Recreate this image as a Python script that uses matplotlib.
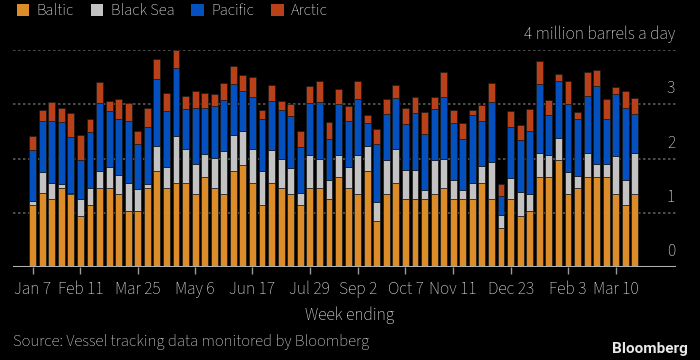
import numpy as np
import pandas as pd
import matplotlib
matplotlib.use('Agg')
from matplotlib import pyplot as plt
from matplotlib.patches import Patch
import matplotlib.transforms as mtransforms

plt.rcParams['font.family'] = ['Source Sans 3', 'DejaVu Sans']

# weekly seaborne crude exports by region, million barrels a day
weeks = pd.date_range('2018-01-07', periods=64, freq='W-SUN')

baltic = [1.14, 1.36, 1.26, 1.45, 1.35, 0.94, 1.14, 1.45, 1.45, 1.35, 1.04,
          1.04, 1.45, 1.77, 1.45, 1.55, 1.55, 1.35, 1.66, 1.45, 1.35, 1.77,
          1.88, 1.55, 1.14, 1.55, 1.45, 1.35, 1.14, 1.45, 1.45, 1.26, 1.66,
          1.45, 1.35, 1.77, 0.84, 1.35, 1.55, 1.26, 1.26, 1.26, 1.35, 1.45,
          1.26, 1.26, 1.26, 1.55, 1.26, 0.72, 1.26, 0.94, 1.04, 1.66, 1.66,
          1.98, 1.35, 1.45, 1.66, 1.66, 1.66, 1.35, 1.14, 1.35]
black_sea = [0.07, 0.40, 0.29, 0.08, 0.02, 0.31, 0.31, 0.32, 0.40, 0.34, 0.51,
             0.39, 0.08, 0.46, 0.40, 0.86, 0.62, 0.54, 0.43, 0.56, 0.78, 0.67,
             0.62, 0.62, 0.63, 0.60, 0.54, 0.48, 0.23, 0.62, 0.54, 0.35, 0.40,
             0.40, 0.71, 0.46, 0.35, 0.63, 0.62, 0.53, 0.53, 0.16, 0.63, 0.54,
             0.35, 0.16, 0.29, 0.32, 0.67, 0.24, 0.38, 0.45, 0.31, 0.45, 0.40,
             0.39, 0.40, 0.22, 0.45, 0.24, 0.24, 0.69, 0.46, 0.75]
pacific = [0.95, 0.93, 1.15, 1.14, 1.03, 0.73, 1.03, 1.25, 1.03, 1.03, 1.15,
           0.83, 1.05, 1.23, 1.03, 1.25, 0.75, 1.05, 0.85, 0.95, 0.95, 0.94,
           0.74, 0.97, 0.95, 0.91, 0.91, 0.95, 0.84, 0.95, 1.05, 0.75, 0.94,
           0.85, 1.04, 0.43, 1.07, 0.84, 0.95, 0.85, 1.05, 1.04, 0.94, 1.15,
           1.05, 0.94, 1.25, 0.83, 1.11, 0.35, 0.94, 0.95, 1.15, 1.27, 0.74,
           1.05, 1.25, 1.05, 1.05, 1.44, 0.82, 1.14, 1.34, 0.72]
arctic = [0.26, 0.21, 0.34, 0.26, 0.44, 0.46, 0.25, 0.39, 0.18, 0.38, 0.32,
          0.24, 0.36, 0.38, 0.32, 0.34, 0.24, 0.30, 0.26, 0.22, 0.32, 0.33,
          0.30, 0.36, 0.18, 0.30, 0.16, 0.22, 0.29, 0.32, 0.38, 0.32, 0.28,
          0.26, 0.32, 0.14, 0.28, 0.28, 0.24, 0.30, 0.30, 0.40, 0.22, 0.46,
          0.24, 0.30, 0.10, 0.28, 0.36, 0.22, 0.30, 0.27, 0.42, 0.42, 0.28,
          0.14, 0.42, 0.14, 0.44, 0.30, 0.38, 0.14, 0.30, 0.30]

names = ['Baltic', 'Black Sea', 'Pacific', 'Arctic']
colors = ['#dc8c28', '#c3c3c3', '#0350be', '#b8411a']
tick_weeks = [0, 5, 11, 17, 23, 29, 34, 39, 44, 50, 56, 61]
yticks = [0, 1, 2, 3]

bg = '#000000'
fig = plt.figure(figsize=(7, 3.6), dpi=100, facecolor=bg)
ax = fig.add_axes([13/700, 93/360, 663/700, 217/360], facecolor=bg)

x = np.arange(len(weeks))
bottom = np.zeros(len(weeks))
for vals, c in zip([baltic, black_sea, pacific, arctic], colors):
    ax.bar(x, vals, bottom=bottom, width=0.72, color=c,
           edgecolor='#1a1a1a', linewidth=0.5, zorder=3)
    bottom += np.array(vals)

ax.set_xlim(-2.05, 67.3)
ax.set_ylim(0, 4)

for v in [1, 2, 3, 4]:
    ax.axhline(v, color='#5a5a5a', lw=1.2, ls=(0, (1.5, 1.5)), zorder=1)
ax.axhline(0, color='#b0b0b0', lw=1.5, zorder=4)

for s in ax.spines.values():
    s.set_visible(False)

ax.set_yticks([])
ax.set_xticks(tick_weeks)
ax.set_xticklabels([f"{weeks[i]:%b} {weeks[i].day}" for i in tick_weeks])
ax.tick_params(axis='x', colors='#9a9a9a', length=5, width=1, pad=5,
               labelsize=12.5, labelcolor='#e2e2e2')

# value labels sit above the gridlines on the right
trans = mtransforms.blended_transform_factory(ax.transAxes, ax.transData)
off = mtransforms.offset_copy(trans, fig=fig, x=-1, y=7, units='dots')
for v in yticks:
    ax.text(1.0, v, str(v), transform=off, ha='right', va='bottom',
            color='#e2e2e2', fontsize=12.5)
ax.text(1.0, 4, '4 million barrels a day', transform=off, ha='right',
        va='bottom', color='#e2e2e2', fontsize=12.5)

handles = [Patch(facecolor=c, edgecolor='none') for c in colors]
fig.legend(handles, names, loc='upper left', bbox_to_anchor=(0.003, 1.032),
           ncol=4, frameon=False, fontsize=11.8, labelcolor='#ececec',
           handlelength=0.75, handleheight=0.75, handletextpad=0.45,
           columnspacing=1.05)

fig.text(350/700, 1 - 315/360, 'Week ending', ha='center', va='center',
         color='#ececec', fontsize=12.5)
fig.text(13/700, 1 - 342/360,
         'Source: Vessel tracking data monitored by Bloomberg',
         ha='left', va='center', color='#dadada', fontsize=12)
fig.text(688/700, 1 - 349/360, 'Bloomberg', ha='right', va='center',
         color='#e8e8e8', fontsize=11, fontweight='bold',
         family=['Roboto', 'DejaVu Sans'])

fig.savefig('out.png', dpi=100, facecolor=bg)
